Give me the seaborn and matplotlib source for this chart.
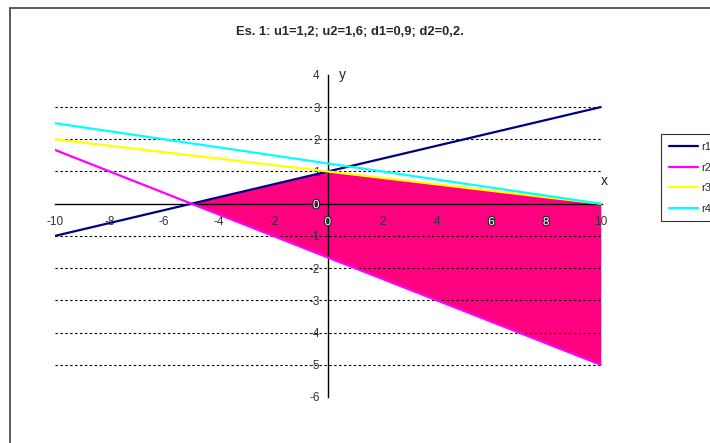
import numpy as np
import pandas as pd
import matplotlib
matplotlib.use("Agg")
import matplotlib.pyplot as plt
import matplotlib.patheffects as pe
from matplotlib.patches import Rectangle
import seaborn as sns

# ── data ─────────────────────────────────────────────────────────────────────
x_pts = [-10, 0, 10]
r1 = [-1.0, 1.0, 3.0]
r2 = [1.67, -1.67, -5.0]
r3 = [2.0, 1.0, 0.0]
r4 = [2.5, 1.25, 0.0]

# feasible region: corners along its upper and lower edges
fill_x = [-5, 0, 10]
fill_top = [0.0, 1.0, 0.0]
fill_bottom = [0.0, -1.67, -5.0]

series_names = ["r1", "r2", "r3", "r4"]
series_colors = ["#000080", "#FF00FF", "#FFFF00", "#00FFFF"]

x_ticks = [-10, -8, -6, -4, -2, 0, 2, 4, 6, 8, 10]
y_ticks = [-6, -5, -4, -3, -2, -1, 0, 1, 2, 3, 4]
grid_levels = [3, 2, 1, -1, -2, -3, -4, -5]

title = "Es. 1: u1=1,2; u2=1,6; d1=0,9; d2=0,2."

# ── build long table for seaborn ─────────────────────────────────────────────
df = pd.DataFrame({
    "x": x_pts * 4,
    "y": r1 + r2 + r3 + r4,
    "serie": [n for n in series_names for _ in x_pts],
})

sns.set_style("white")
plt.rcParams["font.family"] = ["Liberation Sans", "DejaVu Sans"]

fig = plt.figure(figsize=(7.10, 4.43), dpi=100)
ax = fig.add_axes([0.0775, 0.104, 0.7705, 0.727])
ax.set_axisbelow(False)

# outer chart border (cut off at right/bottom like the screenshot)
fig.patches.append(Rectangle((10 / 710, -0.1), 1.2, 1 - 8 / 443 + 0.1,
                             transform=fig.transFigure, fill=False,
                             edgecolor="#404040", lw=1.2, zorder=0))

ax.fill_between(fill_x, fill_bottom, fill_top, color="#FF0080", lw=0, zorder=1)

for lvl in grid_levels:
    ax.plot([-10, 10], [lvl, lvl], color="black", lw=0.8,
            linestyle=(0, (2.2, 2.2)), zorder=2)

sns.lineplot(data=df, x="x", y="y", hue="serie", palette=series_colors,
             hue_order=series_names, lw=1.6, ax=ax, zorder=3)

ax.set_xlim(-10, 10.05)
ax.set_ylim(-6, 4)
ax.set_xticks(x_ticks)
ax.set_yticks(y_ticks)
ax.set_xlabel("")
ax.set_ylabel("")

for side in ["top", "right"]:
    ax.spines[side].set_visible(False)
ax.spines["left"].set_position(("data", 0))
ax.spines["bottom"].set_position(("data", 0))
for side in ["left", "bottom"]:
    ax.spines[side].set_color("black")
    ax.spines[side].set_linewidth(1.0)

ax.tick_params(axis="both", direction="out", length=4, width=1,
               colors="black", labelcolor="#333333", labelsize=8.5)
ax.tick_params(axis="x", pad=5)
ax.tick_params(axis="y", pad=2)
ax.set_xticklabels([str(t) for t in x_ticks])
ax.set_yticklabels([str(t) for t in y_ticks])

# labels sitting on the pink region are drawn hollow (white with dark outline)
hollow = [pe.withStroke(linewidth=1.6, foreground="#222222")]
for lab in ax.get_xticklabels():
    if lab.get_text() in ("0", "6", "8"):
        lab.set_color("white")
        lab.set_path_effects(hollow)
for lab in ax.get_yticklabels():
    if lab.get_text() == "0":
        lab.set_color("white")
        lab.set_path_effects(hollow)

ax.text(0.4, 4.0, "y", fontsize=10, color="#222222", va="center", ha="left")
ax.text(10.15, 0.72, "x", fontsize=10, color="#222222", va="center", ha="center")

fig.text(0.493, 0.928, title, ha="center", va="center",
         fontsize=9.3, fontweight="bold")

leg = ax.legend(loc="upper left", bbox_to_anchor=(0.931, 0.697),
                bbox_transform=fig.transFigure, fontsize=8, frameon=True,
                fancybox=False, edgecolor="black", handlelength=2.6,
                handletextpad=0.3, borderpad=0.7, labelspacing=0.95,
                borderaxespad=0)
leg.get_frame().set_linewidth(0.8)
leg.set_title(None)

fig.savefig("out.png", dpi=100)
